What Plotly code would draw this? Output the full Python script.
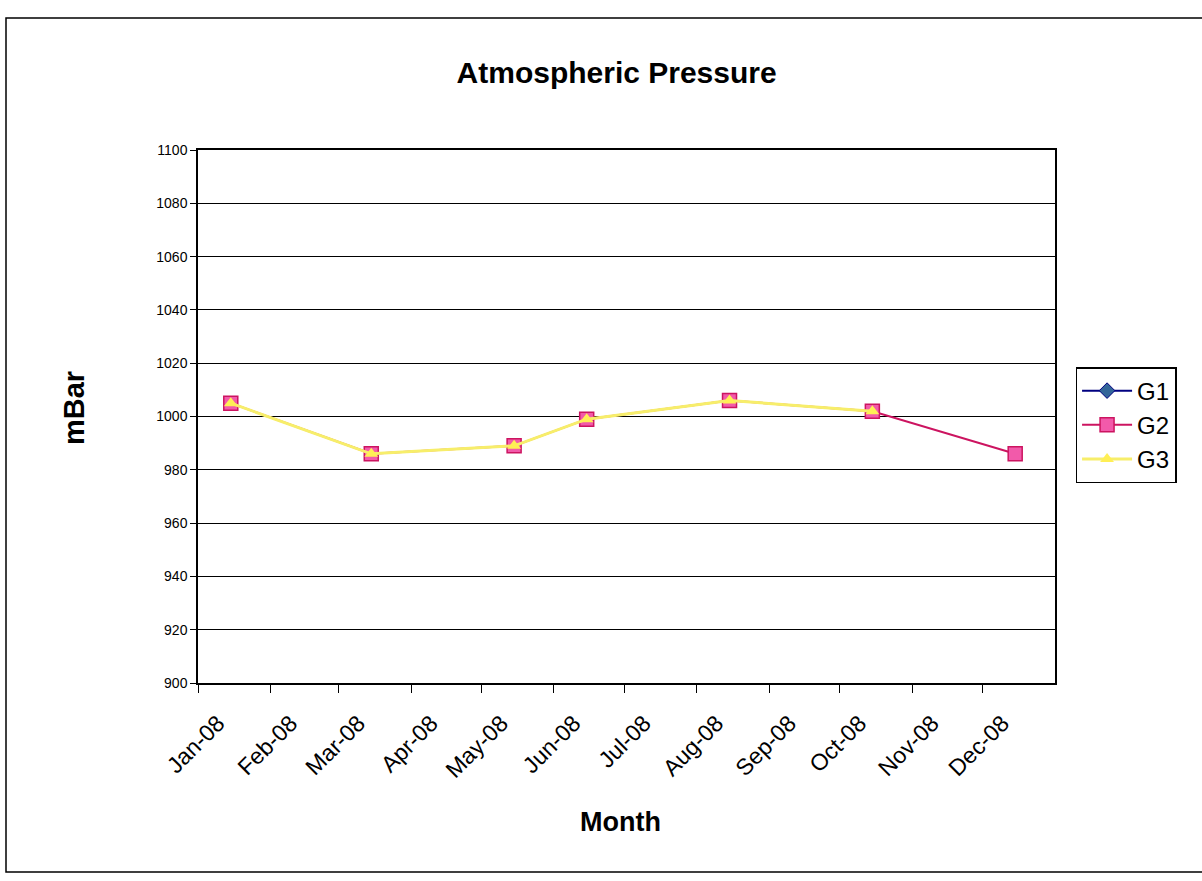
import plotly.graph_objects as go

dates = ["2008-01-15", "2008-03-15", "2008-05-15", "2008-06-15",
         "2008-08-15", "2008-10-15", "2008-12-15"]
g1 = [None, None, None, None, None, None, None]
g2 = [1005, 986, 989, 999, 1006, 1002, 986]
g3 = [1005, 986, 989, 999, 1006, 1002, None]

month_ticks = ["2008-01-01", "2008-02-01", "2008-03-01", "2008-04-01", "2008-05-01",
               "2008-06-01", "2008-07-01", "2008-08-01", "2008-09-01", "2008-10-01",
               "2008-11-01", "2008-12-01"]
month_labels = ["Jan-08", "Feb-08", "Mar-08", "Apr-08", "May-08", "Jun-08",
                "Jul-08", "Aug-08", "Sep-08", "Oct-08", "Nov-08", "Dec-08"]
y_ticks = [900, 920, 940, 960, 980, 1000, 1020, 1040, 1060, 1080, 1100]

FONT = "Liberation Sans, Arial, sans-serif"

fig = go.Figure()
fig.add_trace(go.Scatter(
    x=dates, y=g1, name="G1", mode="lines+markers",
    line=dict(color="#000080", width=2),
    marker=dict(symbol="diamond", size=12, color="#336699",
                line=dict(color="#000080", width=1)),
))
fig.add_trace(go.Scatter(
    x=dates, y=g2, name="G2", mode="lines+markers",
    line=dict(color="#CC1460", width=2),
    marker=dict(symbol="square", size=14, color="#F25AAA",
                line=dict(color="#CC1460", width=1.5)),
))
fig.add_trace(go.Scatter(
    x=dates, y=g3, name="G3", mode="lines+markers",
    line=dict(color="#F7EE6A", width=3),
    marker=dict(symbol="triangle-up", size=12, color="#FFEF55",
                line=dict(width=0)),
))

fig.update_layout(
    width=1202, height=881,
    margin=dict(l=198, r=147, t=150, b=198),
    paper_bgcolor="white", plot_bgcolor="white",
    font=dict(family=FONT, color="black"),
    title=dict(text="<b>Atmospheric Pressure</b>", x=0.513, xanchor="center",
               y=0.918, yanchor="middle", font=dict(size=30, color="black")),
    showlegend=True,
    legend=dict(x=1.024, y=0.484, xanchor="left", yanchor="middle",
                bordercolor="black", borderwidth=1.5, bgcolor="white",
                font=dict(size=24, color="black"), itemwidth=50),
    xaxis=dict(
        type="date", range=["2008-01-01", "2009-01-01"],
        tickvals=month_ticks, ticktext=month_labels, tickangle=-45,
        tickfont=dict(size=23), showgrid=False,
        ticklabelshift=20, ticklabelstandoff=8,
        showline=True, linecolor="black", linewidth=1.5, mirror=True,
        ticks="outside", ticklen=8, tickcolor="black", zeroline=False,
    ),
    yaxis=dict(
        range=[900, 1100], tickvals=y_ticks, tickfont=dict(size=14),
        showgrid=True, gridcolor="black", gridwidth=1,
        showline=True, linecolor="black", linewidth=1.5, mirror=True,
        ticks="outside", ticklen=6, tickcolor="black", zeroline=False,
    ),
    annotations=[
        dict(text="<b>mBar</b>", xref="paper", yref="paper",
             x=(74 - 198) / 857, y=(683 - 408) / 533, textangle=-90,
             showarrow=False, xanchor="center", yanchor="middle",
             font=dict(size=29, color="black")),
        dict(text="<b>Month</b>", xref="paper", yref="paper",
             x=(620 - 198) / 857, y=(683 - 822) / 533,
             showarrow=False, xanchor="center", yanchor="middle",
             font=dict(size=27, color="black")),
    ],
    shapes=[
        dict(type="rect", xref="paper", yref="paper",
             x0=(6 - 198) / 857, x1=(1215 - 198) / 857,
             y0=(683 - 872) / 533, y1=(683 - 18) / 533,
             line=dict(color="black", width=1.5), layer="below"),
    ],
)

fig.write_html("out.html")
